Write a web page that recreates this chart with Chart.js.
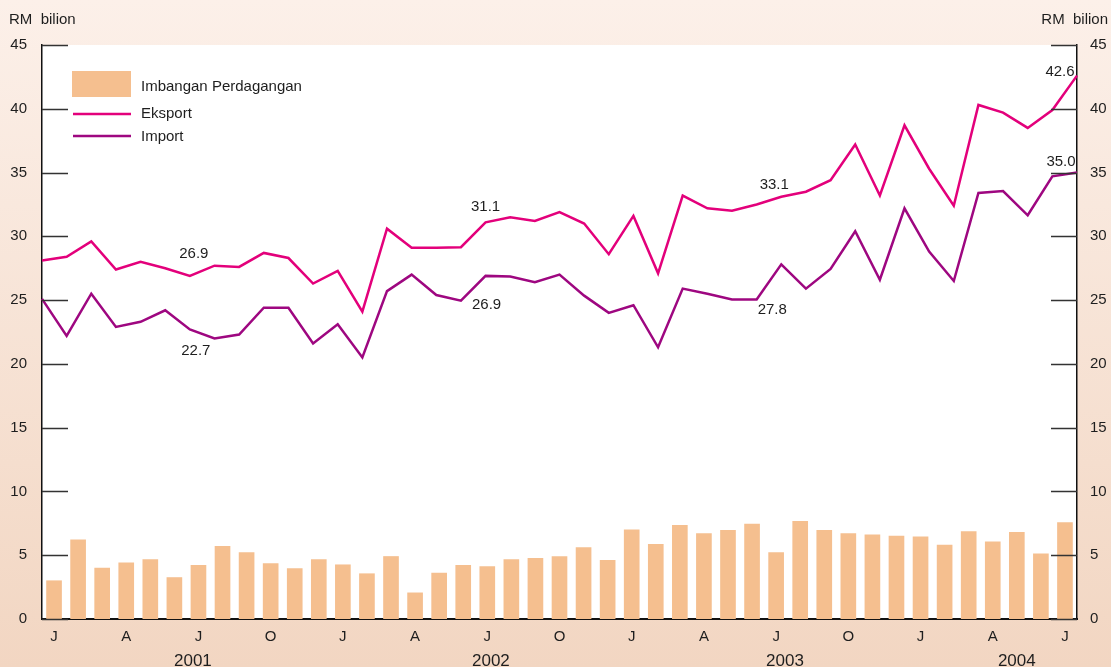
<!DOCTYPE html>
<html>
<head>
<meta charset="utf-8">
<script src="https://cdn.jsdelivr.net/npm/chart.js@4/dist/chart.umd.min.js"></script>
<style>
    html, body { margin: 0; padding: 0; background: #f6e0d0; }
    canvas { display: block; }
</style>
</head>
<body>
<canvas id="chart-perdagangan" width="1111" height="667"></canvas>
<script>
// ============================================
// Eksport, Import dan Imbangan Perdagangan (RM bilion), Jan 2001 - Jul 2004
// ============================================

const categories = [
    'Jan 2001', 'Feb 2001', 'Mac 2001', 'Apr 2001', 'Mei 2001', 'Jun 2001', 'Jul 2001', 'Ogo 2001', 'Sep 2001', 'Okt 2001', 'Nov 2001', 'Dis 2001',
    'Jan 2002', 'Feb 2002', 'Mac 2002', 'Apr 2002', 'Mei 2002', 'Jun 2002', 'Jul 2002', 'Ogo 2002', 'Sep 2002', 'Okt 2002', 'Nov 2002', 'Dis 2002',
    'Jan 2003', 'Feb 2003', 'Mac 2003', 'Apr 2003', 'Mei 2003', 'Jun 2003', 'Jul 2003', 'Ogo 2003', 'Sep 2003', 'Okt 2003', 'Nov 2003', 'Dis 2003',
    'Jan 2004', 'Feb 2004', 'Mac 2004', 'Apr 2004', 'Mei 2004', 'Jun 2004', 'Jul 2004'
];
const monthInitials = ['J', 'F', 'M', 'A', 'M', 'J', 'J', 'A', 'S', 'O', 'N', 'D'];

const eksport = [
    28.1, 28.4, 29.6, 27.4, 28.0, 27.5, 26.9, 27.7, 27.6, 28.7, 28.3, 26.3,
    27.3, 24.1, 30.6, 29.1, 29.1, 29.15, 31.1, 31.5, 31.2, 31.9, 31.0, 28.6,
    31.6, 27.1, 33.2, 32.2, 32.0, 32.5, 33.1, 33.5, 34.4, 37.2, 33.2, 38.7,
    35.3, 32.4, 40.3, 39.7, 38.5, 39.9, 42.6
];
const importData = [
    25.1, 22.2, 25.5, 22.9, 23.3, 24.2, 22.7, 22.0, 22.3, 24.4, 24.4, 21.6,
    23.1, 20.5, 25.7, 27.0, 25.4, 24.95, 26.9, 26.85, 26.4, 27.0, 25.35, 24.0,
    24.6, 21.3, 25.9, 25.5, 25.05, 25.05, 27.8, 25.9, 27.45, 30.4, 26.6, 32.2,
    28.8, 26.5, 33.4, 33.55, 31.65, 34.7, 35.0
];
const imbangan = [
    3.0, 6.2, 4.0, 4.4, 4.65, 3.25, 4.2, 5.7, 5.2, 4.35, 3.95, 4.65,
    4.25, 3.55, 4.9, 2.05, 3.6, 4.2, 4.1, 4.65, 4.75, 4.9, 5.6, 4.6,
    7.0, 5.85, 7.35, 6.7, 6.95, 7.45, 5.2, 7.65, 6.95, 6.7, 6.6, 6.5,
    6.45, 5.8, 6.85, 6.05, 6.8, 5.1, 7.55
];
const yTicks = [0, 5, 10, 15, 20, 25, 30, 35, 40, 45];
const yearLabels = ['2001', '2002', '2003', '2004'];
const yearAt = [5.77, 18.15, 30.37, 40.0];

// label nilai yang ditonjolkan (dataset, bulan)
const valueLabels = [
    { ds: 1, i: 6, dx: 4, dy: -22 },
    { ds: 2, i: 6, dx: 6, dy: 21 },
    { ds: 1, i: 18, dx: 0, dy: -15 },
    { ds: 2, i: 18, dx: 1, dy: 29 },
    { ds: 1, i: 30, dx: -7, dy: -12 },
    { ds: 2, i: 30, dx: -9, dy: 45 },
    { ds: 1, i: 42, dx: -17, dy: -4 },
    { ds: 2, i: 42, dx: -16, dy: -11 }
];

const FONT = "'Liberation Sans', Arial, sans-serif";
const TEXT = '#1e1e1e';
const C_BAR = '#f5bf8f';
const C_EKS = '#e3007b';
const C_IMP = '#9e0780';

const backgroundPlugin = {
    id: 'background',
    beforeDraw(chart) {
        const { ctx, chartArea: a, width, height } = chart;
        const g = ctx.createLinearGradient(0, 0, 0, height);
        g.addColorStop(0, '#fcf0e9');
        g.addColorStop(1, '#f2d6c2');
        ctx.save();
        ctx.fillStyle = g;
        ctx.fillRect(0, 0, width, height);
        ctx.fillStyle = '#ffffff';
        ctx.fillRect(a.left, a.top, a.right - a.left, a.bottom - a.top);
        ctx.restore();
    }
};

const decorPlugin = {
    id: 'decor',
    afterDraw(chart) {
        const { ctx, chartArea: a, scales } = chart;
        ctx.save();

        // tanda skala di dalam kawasan plot
        ctx.strokeStyle = '#333';
        ctx.lineWidth = 1.5;
        yTicks.forEach(v => {
            const y = Math.round(scales.y.getPixelForValue(v)) + 0.5;
            ctx.beginPath();
            ctx.moveTo(a.left, y); ctx.lineTo(a.left + 26, y);
            ctx.moveTo(a.right - 26, y); ctx.lineTo(a.right, y);
            ctx.stroke();
        });

        ctx.fillStyle = TEXT;
        ctx.font = '15px ' + FONT;
        ctx.textBaseline = 'middle';
        ctx.textAlign = 'left';
        ctx.fillText('RM  bilion', 9, 20);
        ctx.textAlign = 'right';
        ctx.fillText('RM  bilion', 1108, 20);

        // tahun
        ctx.font = '17px ' + FONT;
        ctx.textAlign = 'center';
        ctx.textBaseline = 'alphabetic';
        yearLabels.forEach((t, k) => {
            ctx.fillText(t, scales.x.getPixelForValue(yearAt[k]), 666);
        });

        // petunjuk
        ctx.fillStyle = C_BAR;
        ctx.fillRect(a.left + 30, a.top + 26, 59, 26);
        ctx.lineWidth = 2.5;
        ctx.strokeStyle = C_EKS;
        ctx.beginPath(); ctx.moveTo(a.left + 31, 114); ctx.lineTo(a.left + 89, 114); ctx.stroke();
        ctx.strokeStyle = C_IMP;
        ctx.beginPath(); ctx.moveTo(a.left + 31, 136); ctx.lineTo(a.left + 89, 136); ctx.stroke();
        ctx.fillStyle = TEXT;
        ctx.font = '15px ' + FONT;
        ctx.textAlign = 'left';
        ctx.textBaseline = 'middle';
        ctx.fillText('Imbangan Perdagangan', a.left + 99, 87);
        ctx.fillText('Eksport', a.left + 99, 114);
        ctx.fillText('Import', a.left + 99, 137);

        // nilai
        ctx.textAlign = 'center';
        valueLabels.forEach(l => {
            const pt = chart.getDatasetMeta(l.ds).data[l.i];
            const v = chart.data.datasets[l.ds].data[l.i];
            ctx.fillText(v.toFixed(1), pt.x + l.dx, pt.y + l.dy);
        });

        ctx.restore();
    }
};

const yAxis = (position, width, padding) => ({
    type: 'linear',
    position,
    min: 0,
    max: 45,
    afterFit: s => { s.width = width; },
    afterBuildTicks: s => { s.ticks = yTicks.map(v => ({ value: v })); },
    grid: { display: false, drawTicks: false },
    border: { display: true, color: '#111', width: 1.5 },
    ticks: { color: TEXT, font: { family: FONT, size: 15 }, padding }
});

new Chart(document.getElementById('chart-perdagangan'), {
    type: 'bar',
    data: {
        labels: categories,
        datasets: [
            {
                type: 'bar',
                label: 'Imbangan Perdagangan',
                data: imbangan,
                backgroundColor: C_BAR,
                grouped: false,
                barThickness: 15,
                xAxisID: 'x',
                yAxisID: 'y',
                order: 3
            },
            {
                type: 'line',
                label: 'Eksport',
                data: eksport,
                borderColor: C_EKS,
                borderWidth: 2.5,
                borderJoinStyle: 'miter',
                tension: 0,
                pointRadius: 0,
                xAxisID: 'x2',
                yAxisID: 'y',
                order: 1
            },
            {
                type: 'line',
                label: 'Import',
                data: importData,
                borderColor: C_IMP,
                borderWidth: 2.5,
                borderJoinStyle: 'miter',
                tension: 0,
                pointRadius: 0,
                xAxisID: 'x2',
                yAxisID: 'y',
                order: 2
            }
        ]
    },
    options: {
        responsive: false,
        animation: false,
        layout: { padding: { top: 45 } },
        plugins: {
            legend: { display: false },
            tooltip: { enabled: false }
        },
        scales: {
            x: {
                type: 'category',
                offset: true,
                afterFit: s => { s.height = 48; },
                grid: { display: false, drawTicks: false },
                border: { display: true, color: '#111', width: 2 },
                ticks: {
                    autoSkip: false,
                    maxRotation: 0,
                    padding: 9,
                    color: TEXT,
                    font: { family: FONT, size: 15 },
                    callback: (v, i) => i % 3 === 0 ? monthInitials[i % 12] : ''
                }
            },
            x2: {
                type: 'category',
                labels: categories,
                offset: false,
                display: false
            },
            y: yAxis('left', 42, 15),
            y2: yAxis('right', 34, 13)
        }
    },
    plugins: [backgroundPlugin, decorPlugin]
});
</script>
</body>
</html>
